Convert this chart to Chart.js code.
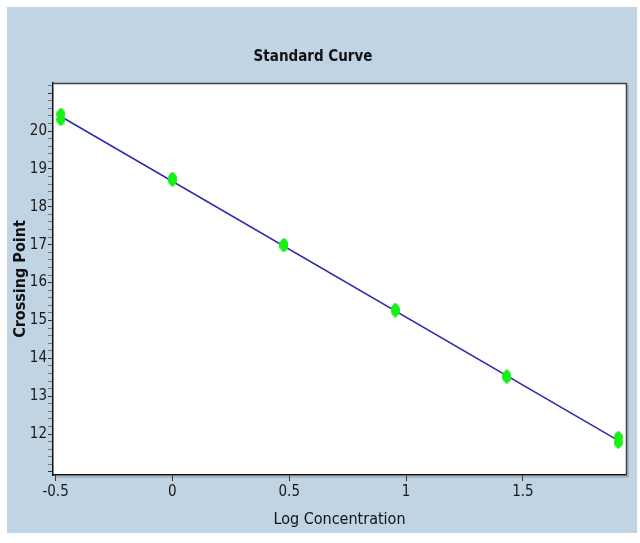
<!DOCTYPE html>
<html>
<head>
<meta charset="utf-8">
<script src="https://cdn.jsdelivr.net/npm/chart.js@4/dist/chart.umd.min.js"></script>
<style>
  html, body { margin: 0; padding: 0; background: #ffffff; }
  canvas { display: block; }
</style>
</head>
<body>
<canvas id="c" width="640" height="543"></canvas>
<script>
// ---- data ----
const logConc = [-0.477, 0, 0.477, 0.954, 1.431, 1.908];
const cpRep1 = [20.45, 18.76, 17.01, 15.30, 13.54, 11.92];
const cpRep2 = [20.30, 18.70, 16.97, 15.25, 13.50, 11.78];
const fitLogConc = [-0.470, 1.905];
const fitCp = [20.36, 11.84];
const xTickLabels = ['-0.5', '0', '0.5', '1', '1.5'];
const yTickLabels = ['12', '13', '14', '15', '16', '17', '18', '19', '20'];

const FONT = "'Liberation Sans Narrow', 'DejaVu Sans Condensed', 'Arial Narrow', sans-serif";

// marker image: elongated green diamond/ellipse
function makeMarker() {
  const c = document.createElement('canvas');
  c.width = 9; c.height = 13;
  const g = c.getContext('2d');
  g.fillStyle = '#18f018';
  g.beginPath();
  g.moveTo(4.5, 0);
  g.quadraticCurveTo(9, 3, 9, 6.5);
  g.quadraticCurveTo(9, 10, 4.5, 13);
  g.quadraticCurveTo(0, 10, 0, 6.5);
  g.quadraticCurveTo(0, 3, 4.5, 0);
  g.fill();
  return c;
}
const marker = makeMarker();

const pts = [];
logConc.forEach((x, i) => { pts.push({x: x, y: cpRep1[i]}); pts.push({x: x, y: cpRep2[i]}); });
const fit = fitLogConc.map((x, i) => ({x: x, y: fitCp[i]}));

const near = (v, step) => Math.abs(v / step - Math.round(v / step)) < 1e-6;

const bgPlugin = {
  id: 'bg',
  beforeDraw(chart) {
    const ctx = chart.ctx;
    ctx.save();
    ctx.fillStyle = '#ffffff';
    ctx.fillRect(0, 0, chart.width, chart.height);
    ctx.fillStyle = '#c1d4e4';
    ctx.fillRect(7, 7, 630, 526);
    const a = chart.chartArea;
    ctx.fillStyle = '#ffffff';
    ctx.fillRect(a.left, a.top, a.right - a.left, a.bottom - a.top);
    ctx.restore();
  },
  afterDraw(chart) {
    const ctx = chart.ctx;
    const a = chart.chartArea;
    ctx.save();
    ctx.strokeStyle = '#404040';
    ctx.lineWidth = 1.5;
    ctx.beginPath();
    ctx.moveTo(a.left, a.top + 0.5);
    ctx.lineTo(a.right + 0.5, a.top + 0.5);
    ctx.lineTo(a.right + 0.5, a.bottom);
    ctx.stroke();
    ctx.strokeStyle = 'rgba(90,100,110,0.5)';
    ctx.lineWidth = 1;
    ctx.beginPath();
    ctx.moveTo(a.right + 2, a.top + 2);
    ctx.lineTo(a.right + 2, a.bottom + 2);
    ctx.lineTo(a.left + 2, a.bottom + 2);
    ctx.stroke();
    ctx.restore();
  }
};

new Chart(document.getElementById('c'), {
  type: 'scatter',
  data: {
    datasets: [
      {
        label: 'Samples',
        data: pts,
        pointStyle: marker,
        pointRadius: 6,
        order: 0
      },
      {
        label: 'Fit',
        type: 'line',
        data: fit,
        borderColor: '#2c2cb0',
        borderWidth: 1.6,
        pointRadius: 0,
        fill: false,
        order: 1
      }
    ]
  },
  plugins: [bgPlugin],
  options: {
    responsive: false,
    animation: false,
    devicePixelRatio: 1,
    layout: { padding: { left: 0, right: 14, top: 0, bottom: 0 } },
    plugins: {
      legend: { display: false },
      tooltip: { enabled: false },
      title: {
        display: true,
        text: 'Standard Curve',
        color: '#111',
        font: { family: FONT, size: 15, weight: 'bold' },
        padding: { top: 48, bottom: 17 }
      }
    },
    scales: {
      x: {
        type: 'linear',
        min: -0.511,
        max: 1.941,
        afterFit(s) { s.height = 68; },
        border: { display: true, color: '#111', width: 1.5 },
        grid: {
          drawOnChartArea: false,
          drawTicks: true,
          tickLength: 6,
          tickColor: (c) => near(c.tick.value, 0.5) ? '#333' : 'rgba(0,0,0,0)'
        },
        ticks: {
          stepSize: 0.5,
          includeBounds: false,
          autoSkip: false,
          maxRotation: 0,
          padding: 2,
          color: '#1a1a1a',
          font: { family: FONT, size: 15 },
          callback: (v) => {
            if (!near(v, 0.5)) return '';
            const s = String(Math.round(v * 2) / 2);
            return xTickLabels.includes(s) ? s : '';
          }
        },
        title: {
          display: true,
          text: 'Log Concentration',
          color: '#111',
          font: { family: FONT, size: 16 },
          padding: { top: 0, bottom: 14 }
        }
      },
      y: {
        type: 'linear',
        min: 10.92,
        max: 21.27,
        afterFit(s) { s.width = 53; },
        border: { display: true, color: '#111', width: 1.5 },
        grid: {
          drawOnChartArea: false,
          drawTicks: true,
          tickLength: 5,
          tickColor: (c) => near(c.tick.value, 0.2) ? (near(c.tick.value, 1) ? '#333' : '#777') : 'rgba(0,0,0,0)'
        },
        ticks: {
          stepSize: 0.2,
          includeBounds: false,
          autoSkip: false,
          padding: 1,
          color: '#1a1a1a',
          font: { family: FONT, size: 15 },
          callback: (v) => {
            if (!near(v, 1)) return '';
            const s = String(Math.round(v));
            return yTickLabels.includes(s) ? s : '';
          }
        },
        title: {
          display: true,
          text: 'Crossing Point',
          color: '#111',
          font: { family: FONT, size: 16, weight: 'bold' },
          padding: { top: 11, bottom: 0 }
        }
      }
    }
  }
});
</script>
</body>
</html>
